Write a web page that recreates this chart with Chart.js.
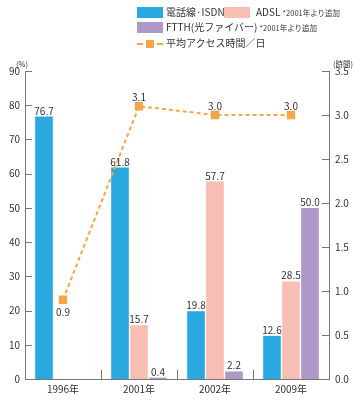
<!DOCTYPE html>
<html><head><meta charset="utf-8">
<script src="https://cdn.jsdelivr.net/npm/chart.js@4/dist/chart.umd.min.js"></script>
<style>
body{margin:0;background:#fff;font-family:"Noto Sans CJK JP","Noto Sans",sans-serif;color:#333}
#wrap{position:relative;width:355px;height:400px}
canvas{position:absolute;left:0;top:0}
.lg{position:absolute;font-size:10px;line-height:12px;white-space:nowrap;color:#333}
.sm{font-size:7.5px}
.box{position:absolute;width:26px;height:11px}
.ax{position:absolute;font-size:7.5px;color:#333}
</style></head><body>
<div id="wrap">
<canvas id="c" width="355" height="400"></canvas>
<div class="box" style="left:137px;top:7px;background:#29a9e0"></div>
<div class="lg" style="left:166px;top:6px">電話線·ISDN</div>
<div class="box" style="left:224px;top:7px;background:#f9beb3"></div>
<div class="lg" style="left:256px;top:6px">ADSL <span class="sm">*2001年より追加</span></div>
<div class="box" style="left:137px;top:22px;background:#ae98c8"></div>
<div class="lg" style="left:166px;top:21px">FTTH(光ファイバー) <span class="sm">*2001年より追加</span></div>
<div style="position:absolute;left:137px;top:43px;width:26px;border-top:2px dashed #f5a54a"></div>
<div style="position:absolute;left:146px;top:40px;width:8px;height:8px;background:#f5a54a"></div>
<div class="lg" style="left:166px;top:37px">平均アクセス時間／日</div>
<div class="ax" style="left:16px;top:58px">(%)</div>
<div class="ax" style="left:333px;top:58px">(時間)</div>
</div>
<script>
const categories = ['1996年','2001年','2002年','2009年'];
const isdn = [76.7, 61.8, 19.8, 12.6];
const adsl = [null, 15.7, 57.7, 28.5];
const ftth = [null, 0.4, 2.2, 50.0];
const accessHours = [0.9, 3.1, 3.0, 3.0];
const leftTicks = [0,10,20,30,40,50,60,70,80,90];
const rightTicks = [0,0.5,1,1.5,2,2.5,3,3.5];

const FONT = '"Noto Sans CJK JP","Noto Sans",sans-serif';
const AXIS = '#777';

const innerTicks = {
  id:'innerTicks',
  afterDraw(chart){
    const ctx = chart.ctx, a = chart.chartArea;
    ctx.save();
    ctx.strokeStyle = AXIS; ctx.lineWidth = 1;
    const y = chart.scales.y, y1 = chart.scales.y1, x = chart.scales.x;
    y.ticks.forEach((t,i)=>{ const p = Math.round(y.getPixelForTick(i))+0.5; ctx.beginPath(); ctx.moveTo(a.left, p); ctx.lineTo(a.left+7, p); ctx.stroke(); });
    y1.ticks.forEach((t,i)=>{ const p = Math.round(y1.getPixelForTick(i))+0.5; ctx.beginPath(); ctx.moveTo(a.right, p); ctx.lineTo(a.right-7, p); ctx.stroke(); });
    for (let i=0;i<categories.length-1;i++){
      const p = Math.round((x.getPixelForTick(i)+x.getPixelForTick(i+1))/2)+0.5;
      ctx.beginPath(); ctx.moveTo(p, a.bottom); ctx.lineTo(p, a.bottom-9); ctx.stroke();
    }
    ctx.restore();
  }
};

const valueLabels = {
  id:'valueLabels',
  afterDatasetsDraw(chart){
    const ctx = chart.ctx;
    ctx.save();
    ctx.font = '10px ' + FONT;
    ctx.fillStyle = '#333';
    ctx.textAlign = 'center';
    ctx.textBaseline = 'alphabetic';
    chart.data.datasets.forEach((ds, di)=>{
      const meta = chart.getDatasetMeta(di);
      meta.data.forEach((el, i)=>{
        const v = ds.data[i];
        if (v === null || v === undefined) return;
        const txt = v.toFixed(1);
        if (ds.type === 'line') {
          if (i === 0) ctx.fillText(txt, el.x, el.y + 16);
          else ctx.fillText(txt, el.x, el.y - 5);
        } else {
          ctx.fillText(txt, el.x, el.y - 2);
        }
      });
    });
    ctx.restore();
  }
};

new Chart(document.getElementById('c'), {
  type:'bar',
  data:{
    labels: categories,
    datasets:[
      {label:'電話線·ISDN', data: isdn, backgroundColor:'#29a9e0', yAxisID:'y', order:2},
      {label:'ADSL', data: adsl, backgroundColor:'#f9beb3', yAxisID:'y', order:2},
      {label:'FTTH(光ファイバー)', data: ftth, backgroundColor:'#ae98c8', yAxisID:'y', order:2},
      {type:'line', label:'平均アクセス時間／日', data: accessHours, yAxisID:'y1', order:1,
       borderColor:'#f5a54a', backgroundColor:'#f5a54a', borderWidth:2, borderDash:[4,3],
       pointStyle:'rect', pointRadius:4.5, pointHoverRadius:4.5, tension:0, fill:false}
    ]
  },
  options:{
    responsive:false, animation:false, events:[],
    layout:{padding:{top:71, left:0, right:0, bottom:0}},
    datasets:{bar:{categoryPercentage:0.75, barPercentage:0.93}},
    plugins:{legend:{display:false}, tooltip:{enabled:false}},
    scales:{
      x:{
        grid:{display:false, drawTicks:false, tickLength:0}, border:{display:true, color:AXIS},
        ticks:{color:'#333', font:{size:10, family:FONT}, padding:4, maxRotation:0},
        afterFit(s){ s.height = 21; }
      },
      y:{
        position:'left', min:0, max:90,
        afterBuildTicks(s){ s.ticks = leftTicks.map(v=>({value:v})); },
        grid:{display:false, drawTicks:false, tickLength:0}, border:{display:true, color:AXIS},
        ticks:{color:'#333', font:{size:10, family:FONT}, padding:5},
        afterFit(s){ s.width = 25; }
      },
      y1:{
        position:'right', min:0, max:3.5,
        afterBuildTicks(s){ s.ticks = rightTicks.map(v=>({value:v})); },
        grid:{display:false, drawTicks:false, tickLength:0}, border:{display:true, color:AXIS},
        ticks:{color:'#333', font:{size:10, family:FONT}, padding:6, callback:v=>Number(v).toFixed(1)},
        afterFit(s){ s.width = 26; }
      }
    }
  },
  plugins:[innerTicks, valueLabels]
});
</script>
</body></html>
